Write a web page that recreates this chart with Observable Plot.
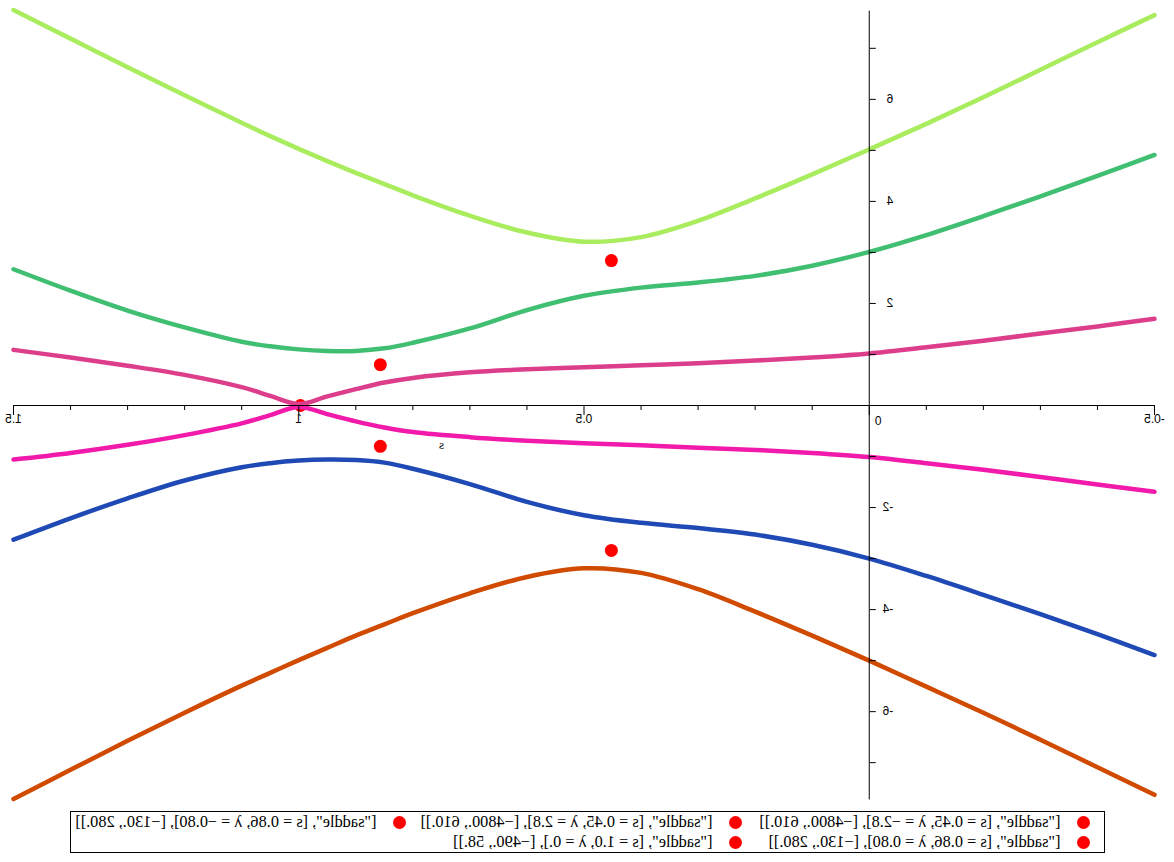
<!DOCTYPE html>
<html><head><meta charset="utf-8">
<script src="https://cdn.jsdelivr.net/npm/d3@7"></script>
<script src="https://cdn.jsdelivr.net/npm/@observablehq/plot@0.6"></script>
<style>
html,body{margin:0;padding:0;background:#fff;}
#wrap{width:1174px;height:862px;position:relative;transform:scaleX(-1);transform-origin:587px 0;overflow:hidden;background:#fff;}
#chart svg{display:block;}
#legend{position:absolute;left:69px;top:811px;width:1033px;height:40px;border:1px solid #000;font-family:"Liberation Serif","Times New Roman",serif;font-size:16.3px;color:#000;}
.item{position:absolute;display:flex;align-items:center;height:20px;white-space:nowrap;}
.dot{width:13px;height:13px;border-radius:50%;background:#ff0000;margin-right:17px;flex:none;}
</style></head><body><div id="wrap"><div id="chart"></div><div id="legend"></div></div>
<script>
// parameter s
const sVals = [-0.5,-0.4,-0.3,-0.2,-0.1,0.0,0.1,0.2,0.3,0.4,0.5,0.6,0.7,0.8,0.85,0.9,0.95,1.0,1.05,1.1,1.2,1.3,1.4,1.5];
// eigenvalue branches λ(s)
const lam1 = [7.65,7.12,6.58,6.04,5.52,5.02,4.53,4.06,3.62,3.30,3.21,3.39,3.72,4.12,4.34,4.56,4.79,5.03,5.28,5.54,6.08,6.63,7.19,7.75];
const lam2 = [4.91,4.50,4.10,3.71,3.34,3.01,2.74,2.54,2.41,2.31,2.15,1.87,1.51,1.23,1.12,1.07,1.07,1.10,1.16,1.25,1.53,1.86,2.25,2.67];
const lam3 = [1.70,1.55,1.41,1.27,1.14,1.02,0.94,0.88,0.83,0.79,0.75,0.71,0.65,0.54,0.45,0.32,0.18,0.03,0.19,0.36,0.60,0.78,0.94,1.09];
const lam4 = [-1.69,-1.55,-1.40,-1.26,-1.13,-1.01,-0.93,-0.87,-0.83,-0.78,-0.74,-0.69,-0.62,-0.52,-0.43,-0.31,-0.17,-0.03,-0.19,-0.35,-0.58,-0.77,-0.93,-1.06];
const lam5 = [-4.89,-4.48,-4.09,-3.71,-3.34,-3.00,-2.73,-2.53,-2.40,-2.30,-2.15,-1.89,-1.54,-1.24,-1.12,-1.07,-1.06,-1.08,-1.13,-1.21,-1.47,-1.82,-2.21,-2.63];
const lam6 = [-7.63,-7.09,-6.55,-6.02,-5.51,-5.00,-4.51,-4.04,-3.60,-3.28,-3.19,-3.36,-3.68,-4.07,-4.29,-4.51,-4.75,-4.99,-5.24,-5.49,-6.02,-6.57,-7.14,-7.71];
const curveColors = ["#a9ec5e","#40bf72","#dd3e8c","#f21aab","#1f4ab5","#d04a00"];

// saddle points
const ptS = [0.452,0.452,0.857,0.857,0.997];
const ptL = [-2.84,2.84,-0.80,0.80,0.0];
const ptLabels = [
  '["saddle", [s = 0.45, λ = −2.8], [−4800., 610.]]',
  '["saddle", [s = 0.45, λ = 2.8], [−4800., 610.]]',
  '["saddle", [s = 0.86, λ = −0.80], [−130., 280.]]',
  '["saddle", [s = 0.86, λ = 0.80], [−130., 280.]]',
  '["saddle", [s = 1.0, λ = 0.], [−490., 58.]]'
];

// axes
const xTicks = [-0.5,-0.4,-0.3,-0.2,-0.1,0,0.1,0.2,0.3,0.4,0.5,0.6,0.7,0.8,0.9,1.0,1.1,1.2,1.3,1.4,1.5];
const xMajor = [-0.5,0,0.5,1,1.5];
const xLabels = [-0.5,0.5,1,1.5];
const xLabelText = ["-0.5","0.5","1","1.5"];
const yTicks = [-7,-6,-5,-4,-3,-2,-1,1,2,3,4,5,6,7];
const yLabels = [-6,-4,-2,2,4,6];
const yLabelText = ["-6","-4","-2","2","4","6"];
const xDomain = [-0.5,1.5];
const yDomain = [-7.8,7.8];
const yAxisExtent = 7.73;
const xTitle = "s";
const xTitleAt = 0.75;

const W = 1174, H = 806, mL = 19, mR = 14, mT = 7, mB = 3;
const pxX = (xDomain[1]-xDomain[0])/(W-mL-mR);
const pxY = (yDomain[1]-yDomain[0])/(H-mT-mB);

const series = [lam1,lam2,lam3,lam4,lam5,lam6];
const curveMarks = series.map((vals,k) =>
  Plot.line(vals.map((v,i)=>({s:sVals[i], lambda:v})), {x:"s", y:"lambda", stroke:curveColors[k], strokeWidth:4.5, curve:"catmull-rom"}));

const pts = ptS.map((v,i)=>({s:v, lambda:ptL[i]}));

const chart = Plot.plot({
  width:W, height:H, marginLeft:mL, marginRight:mR, marginTop:mT, marginBottom:mB,
  x:{domain:xDomain, axis:null},
  y:{domain:yDomain, axis:null},
  style:{fontFamily:'"Liberation Sans", Arial, sans-serif', fontSize:"12px", background:"#fff", overflow:"visible"},
  marks:[
    Plot.dot(pts, {x:"s", y:"lambda", r:6.5, fill:"#ff0000", stroke:"none"}),
    ...curveMarks,
    Plot.ruleY([0], {x1:xDomain[0], x2:xDomain[1], stroke:"#000", strokeWidth:1}),
    Plot.ruleX([0], {y1:-yAxisExtent, y2:yAxisExtent, stroke:"#000", strokeWidth:1}),
    Plot.ruleX(xTicks, {x:d=>d, y1:()=>0, y2:d=> xMajor.some(m=>Math.abs(m-d)<1e-9) ? -10*pxY : -5*pxY, stroke:"#000", strokeWidth:1}),
    Plot.ruleY(yTicks, {y:d=>d, x1:()=>0, x2:()=>-6*pxX, stroke:"#000", strokeWidth:1}),
    Plot.text(xLabels, {x:d=>d, y:()=>0, text:(d,i)=>xLabelText[i], dy:14, lineAnchor:"middle", textAnchor:"middle", fill:"#000"}),
    Plot.text([0], {x:d=>d, y:()=>0, text:()=>"0", dy:16, dx:-9, lineAnchor:"middle", textAnchor:"middle", fill:"#000"}),
    Plot.text(yLabels, {x:()=>0, y:d=>d, text:(d,i)=>yLabelText[i], dx:-24, lineAnchor:"middle", textAnchor:"start", fill:"#000"}),
    Plot.text([xTitle], {x:()=>xTitleAt, y:()=>0, text:d=>d, dy:39, lineAnchor:"middle", textAnchor:"middle", fill:"#000", fontFamily:'"Liberation Serif", serif', fontSize:13})
  ]
});
document.getElementById("chart").appendChild(chart);

// legend
const legend = document.getElementById("legend");
const colLeft = [13.5, 361.5, 697.5];
ptLabels.forEach((lab,i)=>{
  const it = document.createElement("div");
  it.className = "item";
  it.style.left = colLeft[i%3] + "px";
  it.style.top = (Math.floor(i/3)*20) + "px";
  const dot = document.createElement("span"); dot.className = "dot";
  const tx = document.createElement("span"); tx.textContent = lab;
  it.appendChild(dot); it.appendChild(tx);
  legend.appendChild(it);
});
</script></body></html>
